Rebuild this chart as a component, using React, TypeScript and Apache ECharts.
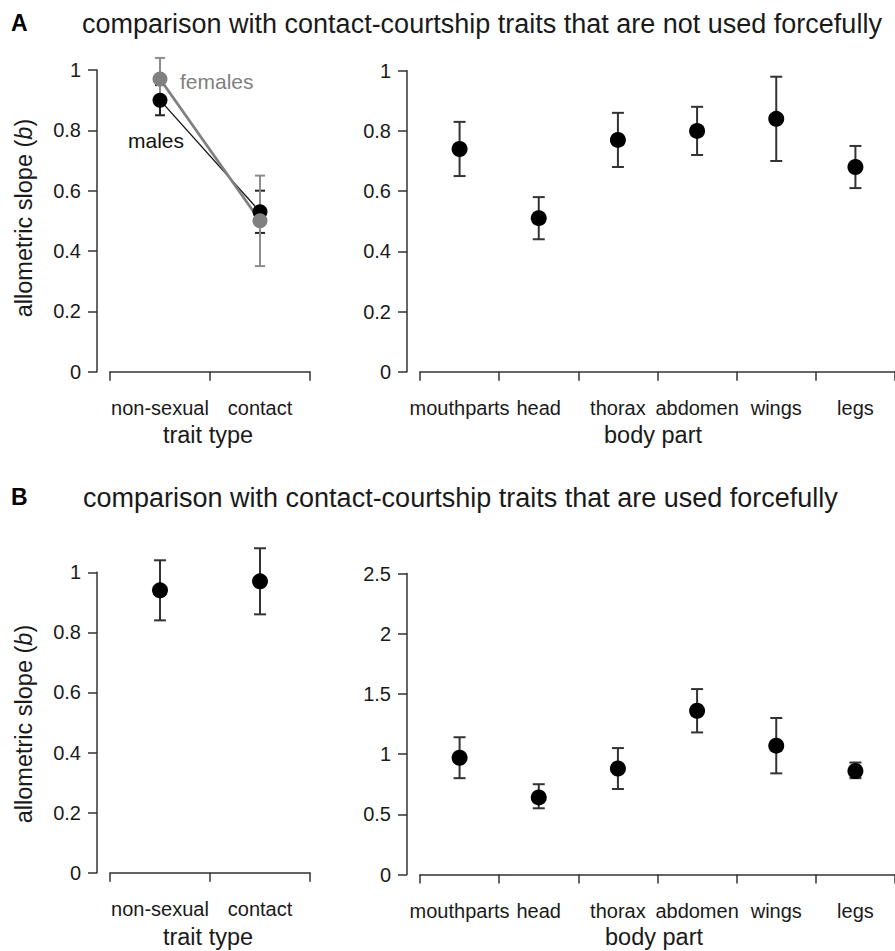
import React, { useEffect, useRef } from 'react';
import * as echarts from 'echarts';

const traitTypes = ['non-sexual', 'contact'];
const bodyParts = ['mouthparts', 'head', 'thorax', 'abdomen', 'wings', 'legs'];

// Panel A (not used forcefully)
const aMalesMean = [0.9, 0.53];
const aMalesLow = [0.85, 0.46];
const aMalesHigh = [0.95, 0.6];
const aFemalesMean = [0.97, 0.5];
const aFemalesLow = [0.9, 0.35];
const aFemalesHigh = [1.04, 0.65];
const aBodyMean = [0.74, 0.51, 0.77, 0.8, 0.84, 0.68];
const aBodyLow = [0.65, 0.44, 0.68, 0.72, 0.7, 0.61];
const aBodyHigh = [0.83, 0.58, 0.86, 0.88, 0.98, 0.75];

// Panel B (used forcefully)
const bTraitMean = [0.94, 0.97];
const bTraitLow = [0.84, 0.86];
const bTraitHigh = [1.04, 1.08];
const bBodyMean = [0.97, 0.64, 0.88, 1.36, 1.07, 0.86];
const bBodyLow = [0.8, 0.55, 0.71, 1.18, 0.84, 0.8];
const bBodyHigh = [1.14, 0.75, 1.05, 1.54, 1.3, 0.93];

const titleA = 'comparison with contact-courtship traits that are not used forcefully';
const titleB = 'comparison with contact-courtship traits that are used forcefully';

const FONT = '"Liberation Sans", Arial, Helvetica, sans-serif';
const DARK = '#1a1a1a';
const AXIS = '#333333';
const GRAY = '#808080';

const pts = (m: number[]) => m.map((v, i) => [i, v]);
const errs = (lo: number[], hi: number[]) => lo.map((v, i) => [i, v, hi[i]]);

function errSeries(idx: number, data: number[][], color: string, width = 2, cap = 6) {
  return {
    type: 'custom',
    xAxisIndex: idx,
    yAxisIndex: idx,
    clip: false,
    silent: true,
    encode: { x: 0, y: [1, 2] },
    data,
    renderItem: (params: any, api: any) => {
      const x = api.value(0);
      const p1 = api.coord([x, api.value(1)]);
      const p2 = api.coord([x, api.value(2)]);
      const st = { stroke: color, lineWidth: width };
      return {
        type: 'group',
        children: [
          { type: 'line', shape: { x1: p1[0], y1: p1[1], x2: p2[0], y2: p2[1] }, style: st },
          { type: 'line', shape: { x1: p1[0] - cap, y1: p1[1], x2: p1[0] + cap, y2: p1[1] }, style: st },
          { type: 'line', shape: { x1: p2[0] - cap, y1: p2[1], x2: p2[0] + cap, y2: p2[1] }, style: st },
        ],
      };
    },
  };
}

function scatterSeries(idx: number, data: number[][]) {
  return {
    type: 'scatter',
    xAxisIndex: idx,
    yAxisIndex: idx,
    symbol: 'circle',
    symbolSize: 16,
    itemStyle: { color: '#000', opacity: 1 },
    silent: true,
    data,
  };
}

function xAx(idx: number, cats: string[]) {
  return {
    type: 'category',
    gridIndex: idx,
    data: cats,
    position: 'bottom',
    offset: 12,
    boundaryGap: true,
    axisLine: { show: true, lineStyle: { color: AXIS, width: 1.5 } },
    axisTick: { show: true, inside: false, length: 9, alignWithLabel: false, interval: 0, lineStyle: { color: AXIS, width: 1.5 } },
    axisLabel: { interval: 0, margin: 14, fontSize: 20, color: DARK, fontFamily: FONT },
    splitLine: { show: false },
  };
}

function yAx(idx: number, max: number, interval: number) {
  return {
    type: 'value',
    gridIndex: idx,
    min: 0,
    max,
    interval,
    position: 'left',
    offset: 13,
    axisLine: { show: true, lineStyle: { color: AXIS, width: 1.5 } },
    axisTick: { show: true, inside: false, length: 9, lineStyle: { color: AXIS, width: 1.5 } },
    axisLabel: { margin: 16, fontSize: 20, color: DARK, fontFamily: FONT },
    splitLine: { show: false },
  };
}

function txt(x: number, y: number, text: string, opts: any = {}) {
  return {
    type: 'text',
    x,
    y,
    rotation: opts.rotation || 0,
    silent: true,
    style: {
      text,
      fontSize: opts.fontSize || 23.5,
      fontFamily: FONT,
      fontWeight: opts.fontWeight || 'normal',
      fill: opts.fill || DARK,
      textAlign: opts.align || 'left',
      textVerticalAlign: 'middle',
      rich: opts.rich,
    },
  };
}

export default function App() {
  const ref = useRef<HTMLDivElement>(null);
  useEffect(() => {
    if (!ref.current) return;
    const chart = echarts.init(ref.current, undefined, { renderer: 'svg' });
    const yTitleRich = { i: { fontStyle: 'italic', fontSize: 23.5, fontFamily: FONT, fill: DARK } };
    chart.setOption({
      animation: false,
      backgroundColor: '#ffffff',
      grid: [
        { left: 110, top: 70, width: 200, height: 301.7 },
        { left: 420, top: 70.7, width: 482.4, height: 301 },
        { left: 110, top: 572.3, width: 200, height: 300.4 },
        { left: 420, top: 573.5, width: 482.4, height: 301 },
      ],
      xAxis: [xAx(0, traitTypes), xAx(1, bodyParts), xAx(2, traitTypes), xAx(3, bodyParts)],
      yAxis: [yAx(0, 1, 0.2), yAx(1, 1, 0.2), yAx(2, 1, 0.2), yAx(3, 2.5, 0.5)],
      series: [
        errSeries(0, errs(aMalesLow, aMalesHigh), '#222', 2, 5),
        {
          type: 'line',
          xAxisIndex: 0,
          yAxisIndex: 0,
          data: pts(aMalesMean),
          symbol: 'circle',
          symbolSize: 15,
          itemStyle: { color: '#000' },
          lineStyle: { color: '#111', width: 1.3 },
          silent: true,
        },
        errSeries(0, errs(aFemalesLow, aFemalesHigh), '#8c8c8c', 2, 5),
        {
          type: 'line',
          xAxisIndex: 0,
          yAxisIndex: 0,
          data: pts(aFemalesMean),
          symbol: 'circle',
          symbolSize: 15,
          itemStyle: { color: GRAY },
          lineStyle: { color: GRAY, width: 2.8 },
          silent: true,
        },
        errSeries(1, errs(aBodyLow, aBodyHigh), '#333', 2, 6),
        scatterSeries(1, pts(aBodyMean)),
        errSeries(2, errs(bTraitLow, bTraitHigh), '#333', 2, 6),
        scatterSeries(2, pts(bTraitMean)),
        errSeries(3, errs(bBodyLow, bBodyHigh), '#333', 2, 6),
        scatterSeries(3, pts(bBodyMean)),
      ],
      graphic: [
        txt(11, 23, 'A', { fontWeight: 'bold', fontSize: 23, fill: '#000' }),
        txt(82, 24, titleA, { fontSize: 27 }),
        txt(11, 497, 'B', { fontWeight: 'bold', fontSize: 23, fill: '#000' }),
        txt(83, 498, titleB, { fontSize: 27 }),
        txt(24, 218, 'allometric slope ({i|b})', { rotation: Math.PI / 2, align: 'center', rich: yTitleRich }),
        txt(24, 724, 'allometric slope ({i|b})', { rotation: Math.PI / 2, align: 'center', rich: yTitleRich }),
        txt(208, 435, 'trait type', { align: 'center' }),
        txt(653, 435, 'body part', { align: 'center' }),
        txt(208, 937, 'trait type', { align: 'center' }),
        txt(654, 937, 'body part', { align: 'center' }),
        txt(180, 81, 'females', { fontSize: 21, fill: GRAY }),
        txt(128, 140, 'males', { fontSize: 21, fill: '#111' }),
      ],
    });
    return () => chart.dispose();
  }, []);
  return (
    <div
      ref={ref}
      style={{ position: 'fixed', left: 0, top: 0, width: 895, height: 951, background: '#fff' }}
    />
  );
}
